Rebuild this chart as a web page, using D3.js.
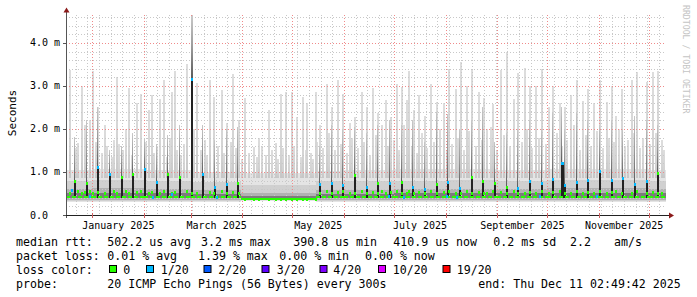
<!DOCTYPE html>
<html lang="en">

<head>
    <meta charset="UTF-8">
    <style type="text/css">
        body {
            margin: 0;
            background: #fff;
        }

        svg text {
            font-family: "DejaVu Sans Mono", monospace;
            fill: #000;
        }

        .tick-label {
            font-size: 10px;
        }

        .legend text {
            font-size: 11.6px;
            white-space: pre;
        }
    </style>
</head>

<body>
    <div id="chart"></div>

    <script src="https://cdn.jsdelivr.net/npm/d3@7"></script>
    <script type="text/javascript">

        // time window of the graph (360 days)
        var startTime = new Date(2024, 11, 16, 2, 49, 42),
            endTime = new Date(2025, 11, 11, 2, 49, 42),
            jan1 = new Date(2025, 0, 1);

        // y axis (milliseconds)
        var yTicks = [0, 1, 2, 3, 4];
        var yTickLabels = ["0.0", "1.0 m", "2.0 m", "3.0 m", "4.0 m"];
        var xLabelMonths = ["2025-01", "2025-03", "2025-05", "2025-07", "2025-09", "2025-11"];

        // background smoke band, one value per period (ms)
        var bandStart = ["2024-12-16", "2025-01-01", "2025-02-01", "2025-03-01", "2025-03-31", "2025-05-15", "2025-06-01",
            "2025-07-01", "2025-08-01", "2025-09-01", "2025-10-01", "2025-11-01", "2025-12-01"];
        var bandLow = [0.31, 0.31, 0.31, 0.31, 0.32, 0.31, 0.31, 0.31, 0.31, 0.31, 0.31, 0.31, 0.31];
        var bandTop = [1.05, 1.08, 1.05, 1.0, 0.98, 1.02, 1.05, 1.08, 1.08, 1.05, 1.08, 1.08, 1.05];
        var bandMid = [0.8, 0.82, 0.8, 0.76, 0.7, 0.78, 0.8, 0.8, 0.82, 0.8, 0.82, 0.82, 0.8];
        var bandInner = [0.6, 0.62, 0.6, 0.58, 0.52, 0.58, 0.58, 0.6, 0.6, 0.6, 0.62, 0.62, 0.6];
        var bandCore = [0.5, 0.5, 0.5, 0.49, 0.44, 0.49, 0.49, 0.5, 0.5, 0.5, 0.5, 0.5, 0.5];
        var bandMedian = [0.43, 0.43, 0.43, 0.43, 0.38, 0.43, 0.43, 0.43, 0.42, 0.42, 0.43, 0.43, 0.43];

        // tall light spikes: day (days since 1 Jan 2025), max rtt, median (ms)
        var lightDay = [-13.5, -8.5, -6.5, -4.5, -1.5, 0.5, 3.5, 7.5, 13, 14.5, 20, 22, 26.5, 29, 34, 35.5, 40.5, 43, 47.5, 49.5,
            56.5, 59.5, 63, 70.5, 73, 77.5, 81, 84.5, 88, 91.5, 97, 100, 106, 110, 113, 116, 119.5, 123, 126.5, 129,
            134, 136.5, 140.5, 143.5, 147.5, 150.5, 154.5, 157.5, 162, 164.5, 168.5, 171.5, 173.5, 176, 179, 182.5, 185.5, 188.5, 190, 193,
            196, 199.5, 203, 206.5, 211, 214, 218, 221, 224.5, 227.5, 232, 235, 237, 240.5, 245, 248.5, 253, 255.5, 259.5, 262.5,
            266, 269.5, 274, 276.5, 280.5, 283.5, 287, 290.5, 294.5, 297.5, 301, 304.5, 308.5, 311.5, 314, 317.5, 323.5, 326.5, 332.5, 336.5,
            339.5, 341.5];
        var lightMax = [3.36, 1.67, 3.01, 2.09, 2.2, 3.34, 2.51, 2.1, 1.74, 3.2, 2.0, 2.95, 2.6, 2.82, 2.43, 2.78, 2.7, 3.14, 2.85, 3.34,
            3.51, 4.63, 3.06, 3.13, 2.74, 2.9, 2.13, 3.28, 2.2, 2.71, 1.59, 1.8, 2.43, 1.67, 2.82, 2.86, 2.86, 2.28, 2.74, 2.6,
            2.86, 2.1, 3.04, 2.51, 3.13, 2.82, 2.13, 2.28, 2.87, 2.51, 2.96, 2.36, 2.09, 2.67, 2.28, 3.04, 2.97, 2.67, 3.34, 2.43,
            2.78, 2.3, 3.05, 2.63, 2.6, 3.4, 2.94, 3.55, 3.01, 3.36, 2.87, 2.73, 2.0, 2.59, 3.37, 3.78, 2.7, 3.3, 3.42, 3.0,
            2.99, 3.4, 2.5, 3.01, 2.6, 2.5, 2.78, 3.13, 2.66, 2.94, 2.6, 3.13, 2.63, 3.01, 2.3, 2.94, 3.14, 3.32, 3.09, 3.32,
            3.34, 1.74];
        var lightMed = [0.52, 0.55, 0.5, 0.53, 0.56, 0.52, 0.54, 0.5, 0.55, 0.52, 0.56, 0.5, 0.53, 0.55, 0.5, 0.54, 0.52, 0.56, 0.5, 0.53,
            0.55, 0.52, 0.5, 0.54, 0.52, 0.55, 0.5, 0.53, 0.52, 0.38, 0.38, 0.38, 0.38, 0.38, 0.38, 0.38, 0.38, 0.38, 0.38, 0.38,
            0.38, 0.52, 0.55, 0.5, 0.53, 0.56, 0.5, 0.52, 0.55, 0.5, 0.54, 0.52, 0.56, 0.5, 0.53, 0.55, 0.5, 0.52, 0.56, 0.5,
            0.54, 0.52, 0.55, 0.5, 0.53, 0.56, 0.5, 0.52, 0.55, 0.5, 0.54, 0.52, 0.5, 0.56, 0.53, 0.5, 0.55, 0.52, 0.5, 0.54,
            0.52, 0.55, 0.5, 0.53, 0.56, 0.5, 0.52, 0.55, 0.5, 0.54, 0.52, 0.56, 0.5, 0.53, 0.55, 0.5, 0.52, 0.56, 0.5, 0.54,
            0.52, 0.5];

        // lower smoke spikes between the tall ones: day, max rtt (ms)
        var midDay = [-10, 2, 5.5, 9, 11.5, 16, 18.5, 23.5, 32, 37, 39, 45, 46.5, 51, 53, 55, 61, 65, 67.5, 69,
            75.5, 79, 83, 86, 90, 94, 98.5, 102, 104, 108, 111.5, 114.5, 118, 121, 125, 128, 131, 132.5, 135, 138.5,
            142, 145.5, 149, 152.5, 156, 159.5, 163, 166.5, 170, 177.5, 181, 184, 187, 191.5, 194.5, 198, 201, 205, 208.5, 212.5,
            216, 219.5, 223, 226, 230, 233.5, 239, 242.5, 247, 250.5, 257.5, 261, 264, 268, 272, 278.5, 282, 285, 289, 292.5,
            296, 299, 303, 306.5, 310, 313, 316, 319.5, 321.5, 325, 328.5, 330.5, 334.5, 338, 343];
        var midMax = [1.55, 1.7, 1.45, 1.6, 1.35, 1.65, 1.5, 1.4, 1.7, 1.45, 1.6, 1.35, 1.8, 1.5, 1.4, 1.65, 2.0, 1.5, 1.75, 1.4,
            1.6, 1.45, 1.7, 1.55, 1.3, 1.45, 1.35, 1.6, 1.4, 1.5, 1.3, 1.55, 1.4, 1.6, 1.35, 1.5, 1.45, 1.3, 1.7, 1.55,
            1.9, 1.5, 1.65, 1.45, 1.8, 1.55, 1.7, 1.4, 1.85, 1.6, 1.75, 1.5, 2.1, 1.6, 1.45, 1.9, 1.55, 1.7, 2.0, 1.5,
            1.65, 1.8, 1.5, 1.95, 1.6, 1.75, 2.05, 1.5, 1.85, 1.6, 1.7, 2.0, 1.55, 1.8, 1.65, 1.9, 1.6, 1.75, 2.1, 1.5,
            1.85, 1.6, 1.95, 1.55, 1.8, 1.7, 2.0, 1.6, 1.75, 1.9, 1.55, 1.8, 1.65, 1.9, 1.5];

        // weekly dark spikes: day, median at top (ms), loss (pings of 20), top of grey smoke (ms)
        var darkDay = [-11, -4, 3, 10, 17, 24, 31, 38, 45, 52, 59, 66, 73, 80, 87,
            136, 143, 150, 157, 164, 171, 178, 185, 192, 199, 206, 213, 220, 227, 234, 241, 248, 255, 262, 269,
            276, 281, 283, 290, 297, 304, 311, 318, 325, 332, 339];
        var darkMed = [0.78, 0.75, 1.12, 0.95, 0.89, 0.95, 1.07, 0.77, 0.95, 0.89, 3.17, 0.95, 0.66, 0.72, 0.74,
            0.73, 0.74, 0.69, 0.93, 0.66, 0.74, 0.75, 0.77, 0.66, 0.6, 0.72, 0.77, 0.63, 0.89, 0.79, 0.74, 0.66, 0.63, 0.78, 0.74,
            0.83, 1.22, 0.7, 0.76, 0.81, 1.02, 0.82, 0.85, 0.73, 0.79, 0.98];
        var darkLoss = [0, 0, 1, 1, 0, 0, 1, 1, 0, 0, 1, 1, 1, 1, 0,
            1, 1, 1, 0, 1, 0, 1, 0, 1, 1, 0, 1, 1, 0, 0, 0, 0, 1, 1, 1,
            1, 1, 1, 1, 1, 1, 1, 1, 1, 1, 0];
        var darkGrey = [1.82, 2.2, 2.5, 1.5, 1.6, 1.9, 1.8, 1.65, 1.85, 2.1, 4.63, 2.1, 1.75, 2.0, 2.05,
            1.6, 2.1, 2.0, 2.05, 1.9, 2.1, 2.2, 2.1, 2.2, 1.7, 2.4, 2.35, 2.0, 2.2, 2.5, 1.7, 1.9, 2.0, 2.2, 2.0,
            2.4, 2.5, 2.0, 2.4, 2.2, 2.1, 2.2, 2.0, 2.3, 2.2, 2.1];

        // low medians with one lost ping
        var blueDay = [-12, -1.5, 36.5, 47.5, 74.5, 178, 187, 212.5, 218.5, 268.5, 302.5];
        var blueMed = [0.58, 0.45, 0.43, 0.49, 0.42, 0.45, 0.41, 0.45, 0.42, 0.45, 0.45];

        // loss colour legend
        var lossLabels = ["0", "1/20", "2/20", "3/20", "4/20", "10/20", "19/20"];
        var lossColors = ["#26ff00", "#00b8ff", "#0059ff", "#5e00ff", "#7e00ff", "#dd00ff", "#ff0000"];

        function dayTime(d) {
            return new Date(jan1.getTime() + d * 864e5);
        }

        var parseDay = d3.timeParse("%Y-%m-%d"),
            parseMonth = d3.timeParse("%Y-%m");

        var svg = d3.select("#chart").append("svg")
            .attr("width", 697)
            .attr("height", 297)
            .style("display", "block");

        svg.append("rect").attr("width", 697).attr("height", 297).attr("fill", "#fff");

        var xScale = d3.scaleTime().domain([startTime, endTime]).range([66, 666]);
        var yScale = d3.scaleLinear().domain([0, 4.65]).range([215, 15]);

        var defs = svg.append("defs");
        var lg = defs.append("linearGradient").attr("id", "lightSmoke")
            .attr("x1", 0).attr("y1", 1).attr("x2", 0).attr("y2", 0);
        lg.append("stop").attr("offset", 0).attr("stop-color", "#c6c6c6");
        lg.append("stop").attr("offset", 0.3).attr("stop-color", "#d3d3d3");
        lg.append("stop").attr("offset", 1).attr("stop-color", "#dddddd");
        var dg = defs.append("linearGradient").attr("id", "darkSmoke")
            .attr("x1", 0).attr("y1", 1).attr("x2", 0).attr("y2", 0);
        dg.append("stop").attr("offset", 0).attr("stop-color", "#5a5a5a");
        dg.append("stop").attr("offset", 0.5).attr("stop-color", "#9a9a9a");
        dg.append("stop").attr("offset", 1).attr("stop-color", "#c8c8c8");

        // band periods
        var edges = bandStart.map(parseDay);
        edges[0] = startTime;
        edges.push(endTime);
        var bands = bandStart.map(function (s, i) {
            return {
                t0: edges[i], t1: edges[i + 1], low: bandLow[i], top: bandTop[i], mid: bandMid[i],
                inner: bandInner[i], core: bandCore[i], med: bandMedian[i], gap: i === 4
            };
        });

        var plot = svg.append("g").attr("shape-rendering", "crispEdges");

        function bandLayer(hi, lo, color) {
            plot.append("g").selectAll("rect")
                .data(bands)
                .enter().append("rect")
                .attr("x", function (d) { return xScale(d.t0); })
                .attr("width", function (d) { return xScale(d.t1) - xScale(d.t0); })
                .attr("y", function (d) { return yScale(hi(d)); })
                .attr("height", function (d) { return yScale(lo(d)) - yScale(hi(d)); })
                .attr("fill", color);
        }
        bandLayer(function (d) { return d.top; }, function (d) { return d.low; }, "#e4e4e4");
        bandLayer(function (d) { return d.mid; }, function (d) { return d.low + 0.02; }, "#d0d0d0");
        bandLayer(function (d) { return d.inner; }, function (d) { return d.low + 0.04; }, "#b2b2b2");
        bandLayer(function (d) { return d.core; }, function (d) { return d.med - 0.03; }, "#7c7c7c");

        var lights = lightDay.map(function (d, i) {
            return { t: dayTime(d), max: lightMax[i], med: lightMed[i] };
        });
        var mids = midDay.map(function (d, i) {
            return { t: dayTime(d), max: midMax[i] };
        });
        var darks = darkDay.map(function (d, i) {
            return { t: d3.timeHour.offset(dayTime(d), 12), med: darkMed[i], loss: darkLoss[i], grey: darkGrey[i], wide: d === 281, huge: d === 59 };
        });
        var blues = blueDay.map(function (d, i) {
            return { t: dayTime(d), med: blueMed[i] };
        });

        function spikes(data, from) {
            plot.append("g").selectAll("rect")
                .data(data)
                .enter().append("rect")
                .attr("x", function (d) { return Math.round(xScale(d.t)) - 1; })
                .attr("width", 2)
                .attr("y", function (d) { return yScale(d.max); })
                .attr("height", function (d) { return yScale(from) - yScale(d.max); })
                .attr("fill", "url(#lightSmoke)");
        }
        spikes(mids, 0.85);
        spikes(lights, 0.85);

        // grid, over the light smoke
        var grid = svg.append("g").attr("shape-rendering", "crispEdges").attr("fill", "none");
        var minorY = d3.range(1, 24).map(function (i) { return i * 0.2; }).filter(function (v) {
            return Math.abs(v - Math.round(v)) > 0.01;
        });
        grid.selectAll(".hmin").data(minorY).enter().append("line")
            .attr("x1", 66).attr("x2", 666)
            .attr("y1", function (d) { return Math.round(yScale(d)) + 0.5; })
            .attr("y2", function (d) { return Math.round(yScale(d)) + 0.5; })
            .attr("stroke", "#c8c8c8").attr("stroke-dasharray", "1,2");
        var weeks = d3.timeSunday.range(startTime, endTime);
        grid.selectAll(".vmin").data(weeks).enter().append("line")
            .attr("x1", function (d) { return Math.round(xScale(d)) + 0.5; })
            .attr("x2", function (d) { return Math.round(xScale(d)) + 0.5; })
            .attr("y1", 15).attr("y2", 215)
            .attr("stroke", "#c8c8c8").attr("stroke-dasharray", "1,2");
        grid.selectAll(".hmaj").data(yTicks.slice(1)).enter().append("line")
            .attr("x1", 66).attr("x2", 666)
            .attr("y1", function (d) { return Math.round(yScale(d)) + 0.5; })
            .attr("y2", function (d) { return Math.round(yScale(d)) + 0.5; })
            .attr("stroke", "#f08a8a").attr("stroke-dasharray", "1,2");
        var months = d3.timeMonth.range(startTime, endTime);
        grid.selectAll(".vmaj").data(months).enter().append("line")
            .attr("x1", function (d) { return Math.round(xScale(d)) + 0.5; })
            .attr("x2", function (d) { return Math.round(xScale(d)) + 0.5; })
            .attr("y1", 15).attr("y2", 215)
            .attr("stroke", "#f08a8a").attr("stroke-dasharray", "1,2");

        // dense smoke of the weekly spikes
        var dense = svg.append("g").attr("shape-rendering", "crispEdges");
        dense.append("g").selectAll("rect")
            .data(darks)
            .enter().append("rect")
            .attr("x", function (d) { return Math.round(xScale(d.t)) - 1; })
            .attr("width", function (d) { return d.huge ? 2 : 1; })
            .attr("y", function (d) { return yScale(d.grey); })
            .attr("height", function (d) { return yScale(d.med) - yScale(d.grey); })
            .attr("fill", "url(#darkSmoke)");

        dense.append("g").selectAll("rect")
            .data(darks)
            .enter().append("rect")
            .attr("x", function (d) { return Math.round(xScale(d.t)) - 1; })
            .attr("width", function (d) { return d.wide ? 3 : 2; })
            .attr("y", function (d) { return yScale(d.med); })
            .attr("height", function (d) { return yScale(0.4) - yScale(d.med); })
            .attr("fill", "#222");

        // median line and dots
        var med = svg.append("g").attr("shape-rendering", "crispEdges");
        med.selectAll(".mline").data(bands).enter().append("line")
            .attr("x1", function (d) { return xScale(d.t0); })
            .attr("x2", function (d) { return xScale(d.t1); })
            .attr("y1", function (d) { return Math.round(yScale(d.med)); })
            .attr("y2", function (d) { return Math.round(yScale(d.med)); })
            .attr("stroke", lossColors[0]).attr("stroke-width", 2)
            .attr("stroke-dasharray", function (d) { return d.gap ? null : "4,2"; });
        med.selectAll(".ldot").data(lights).enter().append("rect")
            .attr("x", function (d) { return Math.round(xScale(d.t)) - 1; })
            .attr("y", function (d) { return Math.round(yScale(d.med)) - 1; })
            .attr("width", 2).attr("height", 3)
            .attr("fill", lossColors[0]);
        med.selectAll(".bdot").data(blues).enter().append("rect")
            .attr("x", function (d) { return Math.round(xScale(d.t)) - 1; })
            .attr("y", function (d) { return Math.round(yScale(d.med)) - 1; })
            .attr("width", 2).attr("height", 3)
            .attr("fill", lossColors[1]);
        med.selectAll(".ddot").data(darks).enter().append("rect")
            .attr("x", function (d) { return Math.round(xScale(d.t)) - 1; })
            .attr("y", function (d) { return Math.round(yScale(d.med)) - 1; })
            .attr("width", function (d) { return d.wide ? 3 : 2; }).attr("height", 3)
            .attr("fill", function (d) { return lossColors[d.loss]; });

        // axes
        var axes = svg.append("g").attr("shape-rendering", "crispEdges");
        axes.append("line").attr("x1", 66.5).attr("x2", 66.5).attr("y1", 12).attr("y2", 218)
            .attr("stroke", "#555");
        axes.append("line").attr("x1", 63).attr("x2", 669).attr("y1", 215.5).attr("y2", 215.5)
            .attr("stroke", "#222");
        axes.selectAll(".ytk").data(yTicks).enter().append("line")
            .attr("x1", 63).attr("x2", 66)
            .attr("y1", function (d) { return Math.round(yScale(d)) + 0.5; })
            .attr("y2", function (d) { return Math.round(yScale(d)) + 0.5; })
            .attr("stroke", "#555");
        axes.selectAll(".xtk").data(months).enter().append("line")
            .attr("x1", function (d) { return Math.round(xScale(d)) + 0.5; })
            .attr("x2", function (d) { return Math.round(xScale(d)) + 0.5; })
            .attr("y1", 213).attr("y2", 218)
            .attr("stroke", "#d06060");
        svg.append("path").attr("d", "M63.5,12.5 L66.5,7.5 L69.5,12.5 Z").attr("fill", "#8b1a1a");
        svg.append("path").attr("d", "M669,212.5 L674,215.5 L669,218.5 Z").attr("fill", "#8b1a1a");

        svg.selectAll(".ylab").data(yTicks).enter().append("text")
            .attr("class", "tick-label")
            .attr("x", 30)
            .attr("y", function (d) { return yScale(d) + 3.5; })
            .text(function (d, i) { return yTickLabels[i]; });

        svg.selectAll(".xlab").data(xLabelMonths.map(parseMonth)).enter().append("text")
            .attr("class", "tick-label")
            .attr("text-anchor", "middle")
            .attr("x", function (d) { return (xScale(d) + xScale(d3.timeMonth.offset(d, 1))) / 2; })
            .attr("y", 228.5)
            .text(d3.timeFormat("%B %Y"));

        svg.append("text")
            .attr("transform", "translate(15.5,113) rotate(-90)")
            .attr("text-anchor", "middle")
            .style("font-size", "11px")
            .text("Seconds");

        svg.append("text")
            .attr("transform", "translate(683,5) rotate(90)")
            .style("font-size", "8.2px")
            .style("fill", "#c4c4c4")
            .text("RRDTOOL / TOBI OETIKER");

        // legend
        var legendRows = [
            [[16, "median rtt:"], [107.3, "502.2 us avg"], [201, "3.2 ms max"], [293.3, "390.8 us min"], [393.3, "410.9 us now"], [493.3, "0.2 ms sd"], [570, "2.2"], [614, "am/s"]],
            [[16, "packet loss:"], [107.3, "0.01 % avg"], [198, "1.39 % max"], [279.3, "0.00 % min"], [365, "0.00 % now"]],
            [[16, "loss color:"]],
            [[16, "probe:"], [107.3, "20 ICMP Echo Pings (56 Bytes) every 300s"], [478.3, "end: Thu Dec 11 02:49:42 2025"]]
        ];
        var legendY = [245.5, 259.5, 273.5, 287.5];
        var lossBoxX = [109, 146, 203.5, 261.5, 319.5, 378, 442.5];
        var lossTextX = [123.3, 160.7, 218.3, 276.7, 333.3, 392.7, 456.7];

        var legend = svg.append("g").attr("class", "legend");
        legendRows.forEach(function (row, r) {
            legend.selectAll(".row" + r).data(row).enter().append("text")
                .attr("x", function (d) { return d[0]; })
                .attr("y", legendY[r])
                .text(function (d) { return d[1]; });
        });
        legend.selectAll(".lbox").data(lossColors).enter().append("rect")
            .attr("x", function (d, i) { return lossBoxX[i] + 0.5; })
            .attr("y", 265.5)
            .attr("width", 7).attr("height", 7)
            .attr("fill", function (d) { return d; })
            .attr("stroke", "#000");
        legend.selectAll(".ltxt").data(lossLabels).enter().append("text")
            .attr("x", function (d, i) { return lossTextX[i]; })
            .attr("y", legendY[2])
            .text(function (d) { return d; });

    </script>
</body>

</html>
